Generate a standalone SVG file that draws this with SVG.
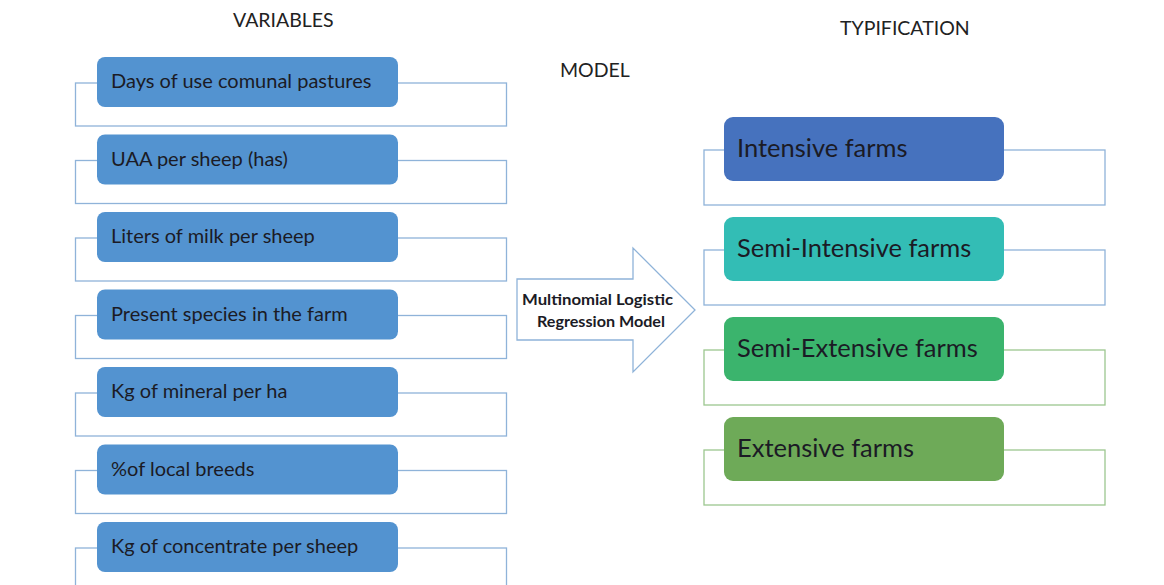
<svg xmlns="http://www.w3.org/2000/svg" width="1164" height="585" viewBox="0 0 1164 585">
<style>
.bg{fill:#ffffff}
.hd{font-family:Lato,"Open Sans","Liberation Sans",sans-serif;font-size:19.5px;fill:#222}
.lf{fill:#ffffff;stroke:#8fb3d9;stroke-width:1.3}
.lb{fill:#5393d0}
.lt{font-family:Lato,"Open Sans","Liberation Sans",sans-serif;font-size:20px;fill:#1b1b25}
.rt{font-family:Lato,"Open Sans","Liberation Sans",sans-serif;font-size:25.5px;fill:#1b1b25}
.gf{fill:#ffffff;stroke:#9cc78f;stroke-width:1.3}
.at{font-family:Lato,"Open Sans","Liberation Sans",sans-serif;font-size:16px;font-weight:bold;fill:#1b1b25}
</style>
<rect class="bg" x="0" y="0" width="1164" height="585"/>
<text class="hd" x="233" y="27">VARIABLES</text>
<text class="hd" x="560" y="77">MODEL</text>
<text class="hd" x="840" y="35">TYPIFICATION</text>

<g id="var1"><rect class="lf" x="75.5" y="83" width="431" height="43"/><rect class="lb" x="97" y="57" width="301" height="50" rx="8"/><text class="lt" x="111" y="88">Days of use comunal pastures</text></g>
<g id="var2"><rect class="lf" x="75.5" y="160.5" width="431" height="43"/><rect class="lb" x="97" y="134.5" width="301" height="50" rx="8"/><text class="lt" x="111" y="165.5">UAA per sheep (has)</text></g>
<g id="var3"><rect class="lf" x="75.5" y="238" width="431" height="43"/><rect class="lb" x="97" y="212" width="301" height="50" rx="8"/><text class="lt" x="111" y="243">Liters of milk per sheep</text></g>
<g id="var4"><rect class="lf" x="75.5" y="315.5" width="431" height="43"/><rect class="lb" x="97" y="289.5" width="301" height="50" rx="8"/><text class="lt" x="111" y="320.5">Present species in the farm</text></g>
<g id="var5"><rect class="lf" x="75.5" y="393" width="431" height="43"/><rect class="lb" x="97" y="367" width="301" height="50" rx="8"/><text class="lt" x="111" y="398">Kg of mineral per ha</text></g>
<g id="var6"><rect class="lf" x="75.5" y="470.5" width="431" height="43"/><rect class="lb" x="97" y="444.5" width="301" height="50" rx="8"/><text class="lt" x="111" y="475.5">%of local breeds</text></g>
<g id="var7"><rect class="lf" x="75.5" y="548" width="431" height="43"/><rect class="lb" x="97" y="522" width="301" height="50" rx="8"/><text class="lt" x="111" y="553">Kg of concentrate per sheep</text></g>

<g id="model">
<polygon points="517,279 633,279 633,248 695,310 633,372 633,340 517,340" fill="#ffffff" stroke="#8fb3d9" stroke-width="1.3"/>
<text class="at" x="522" y="305" textLength="151" lengthAdjust="spacingAndGlyphs">Multinomial Logistic</text>
<text class="at" x="537" y="327" textLength="128" lengthAdjust="spacingAndGlyphs">Regression Model</text>
</g>

<g id="type1"><rect class="lf" x="704" y="150" width="401" height="55"/><rect x="724" y="117" width="280" height="64" rx="9" fill="#4672be"/><text class="rt" x="737" y="157">Intensive farms</text></g>
<g id="type2"><rect class="lf" x="704" y="250" width="401" height="55"/><rect x="724" y="217" width="280" height="64" rx="9" fill="#33bdb5"/><text class="rt" x="737" y="257">Semi-Intensive farms</text></g>
<g id="type3"><rect class="gf" x="704" y="350" width="401" height="55"/><rect x="724" y="317" width="280" height="64" rx="9" fill="#3bb46d"/><text class="rt" x="737" y="357">Semi-Extensive farms</text></g>
<g id="type4"><rect class="gf" x="704" y="450" width="401" height="55"/><rect x="724" y="417" width="280" height="64" rx="9" fill="#6eaa58"/><text class="rt" x="737" y="457">Extensive farms</text></g>
<g id="connectors"></g>
</svg>
